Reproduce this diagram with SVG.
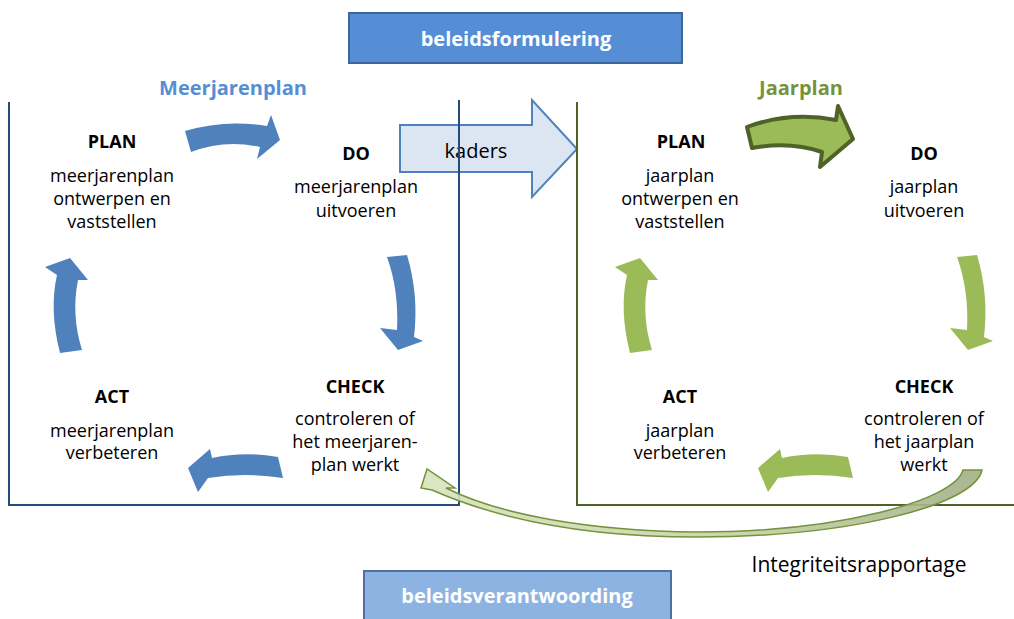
<svg xmlns="http://www.w3.org/2000/svg" width="1014" height="619" viewBox="0 0 1014 619">
  <style>
    text { font-family: "Open Sans", "Liberation Sans", sans-serif; text-anchor: middle; fill: #000; }
    .body { font-size: 18px; }
    .head { font-size: 18px; font-weight: bold; }
    .boxlabel { font-size: 20px; font-weight: bold; fill: #fff; }
    .title { font-size: 20px; font-weight: bold; }
    .blue-arrow { fill: #4F81BD; }
    .green-arrow { fill: #9BBB59; }
    .frame-blue { fill: none; stroke: #244A7E; stroke-width: 2; }
    .frame-green { fill: none; stroke: #4F6228; stroke-width: 2; }
  </style>
  <defs>
    <linearGradient id="reportGrad" gradientUnits="userSpaceOnUse" x1="980" y1="480" x2="430" y2="480">
      <stop offset="0" stop-color="#A2AF87"/>
      <stop offset="0.45" stop-color="#C3D3A3"/>
      <stop offset="1" stop-color="#D7E4BD"/>
    </linearGradient>
  </defs>
  <rect width="1014" height="619" fill="#fff"/>

  <!-- policy phase boxes -->
  <g id="beleidsformulering">
    <rect x="349" y="13" width="333" height="50" fill="#558ED5" stroke="#3B679C" stroke-width="2"/>
    <text class="boxlabel" x="516" y="46">beleidsformulering</text>
  </g>
  <g id="beleidsverantwoording">
    <rect x="364" y="571" width="307" height="60" fill="#8DB3E2" stroke="#4E71A0" stroke-width="2"/>
    <text class="boxlabel" x="517" y="603">beleidsverantwoording</text>
  </g>

  <!-- kaders arrow between the two cycles -->
  <g id="kaders">
    <path d="M400,125 L532,125 L532,100 L577,149 L532,197 L532,172 L400,172 Z" fill="#DCE6F2" stroke="#4F81BD" stroke-width="2" stroke-linejoin="miter"/>
    <text x="476" y="158" style="font-size:20px">kaders</text>
  </g>

  <!-- multi-year frame -->
  <g id="meerjarenplan">
    <path class="frame-blue" d="M9,102 L9,505 L459,505 L459,100"/>
    <text class="title" x="233" y="95" style="fill:#558ED5">Meerjarenplan</text>
  </g>

  <!-- annual frame -->
  <g id="jaarplan">
    <path class="frame-green" d="M577,102 L577,505 L1014,505"/>
    <text class="title" x="801" y="95" style="fill:#76923C">Jaarplan</text>
  </g>

  <!-- multi-year PDCA steps -->
  <g id="mj-plan">
    <text class="head" x="112" y="148">PLAN</text>
    <text class="body" x="112" y="182">meerjarenplan</text>
    <text class="body" x="112" y="205">ontwerpen en</text>
    <text class="body" x="112" y="228">vaststellen</text>
  </g>
  <g id="mj-do">
    <text class="head" x="356" y="160">DO</text>
    <text class="body" x="356" y="193">meerjarenplan</text>
    <text class="body" x="356" y="217">uitvoeren</text>
  </g>
  <g id="mj-check">
    <text class="head" x="355" y="393">CHECK</text>
    <text class="body" x="355" y="425">controleren of</text>
    <text class="body" x="355" y="448">het meerjaren-</text>
    <text class="body" x="355" y="471">plan werkt</text>
  </g>
  <g id="mj-act">
    <text class="head" x="112" y="403">ACT</text>
    <text class="body" x="112" y="437">meerjarenplan</text>
    <text class="body" x="112" y="459">verbeteren</text>
  </g>

  <!-- annual PDCA steps -->
  <g id="j-plan">
    <text class="head" x="681" y="148">PLAN</text>
    <text class="body" x="680" y="182">jaarplan</text>
    <text class="body" x="680" y="205">ontwerpen en</text>
    <text class="body" x="680" y="228">vaststellen</text>
  </g>
  <g id="j-do">
    <text class="head" x="924" y="160">DO</text>
    <text class="body" x="924" y="193">jaarplan</text>
    <text class="body" x="924" y="217">uitvoeren</text>
  </g>
  <g id="j-check">
    <text class="head" x="924" y="393">CHECK</text>
    <text class="body" x="924" y="425">controleren of</text>
    <text class="body" x="924" y="448">het jaarplan</text>
    <text class="body" x="924" y="471">werkt</text>
  </g>
  <g id="j-act">
    <text class="head" x="680" y="403">ACT</text>
    <text class="body" x="680" y="437">jaarplan</text>
    <text class="body" x="680" y="459">verbeteren</text>
  </g>

  <g id="integriteitsrapportage-label">
    <text x="859" y="572" style="font-size:21px">Integriteitsrapportage</text>
  </g>

  <!-- cycle arrows and report arrow -->
  <g id="connectors">
    <!-- multi-year cycle -->
    <path class="blue-arrow" d="M185,131 Q225,119 267,126 L271,115 L280,140 L257,159 L260,147 Q225,139 191,152 Z"/>
    <path class="blue-arrow" d="M387,257 L407,255 Q419,295 414,337 L423,341 L398,350 L380,328 L397,330 Q399,290 387,257 Z"/>
    <path class="blue-arrow" d="M278,457 Q245,451 212,458 L210,449 L188,468 L198,492 L208,478 Q245,472 283,478 Z"/>
    <path class="blue-arrow" d="M60,353 Q49,310 57,275 L45,267 L70,258 L88,280 L78,280 Q71,315 82,350 Z"/>

    <!-- annual cycle -->
    <path class="green-arrow" d="M747,127 Q790,111 836,120 L838,106 L853,139 L820,167 L822,152 Q790,141 752,148 Z" stroke="#4F6228" stroke-width="4" stroke-linejoin="round"/>
    <g transform="translate(570,0)">
      <path class="green-arrow" d="M387,257 L407,255 Q419,295 414,337 L423,341 L398,350 L380,328 L397,330 Q399,290 387,257 Z"/>
      <path class="green-arrow" d="M278,457 Q245,451 212,458 L210,449 L188,468 L198,492 L208,478 Q245,472 283,478 Z"/>
      <path class="green-arrow" d="M60,353 Q49,310 57,275 L45,267 L70,258 L88,280 L78,280 Q71,315 82,350 Z"/>
    </g>

    <!-- report from annual CHECK back to multi-year CHECK -->
    <path d="M982,470 C975,505 850,537 697,537 C590,537 500,520 432,490 L421,488 L427,469 L455,488 L446,488 C500,515 590,531 697,532 C840,532 955,500 963,470 Z" fill="url(#reportGrad)" fill-opacity="0.9" stroke="#76923C" stroke-width="1.5" stroke-linejoin="miter"/>
  </g>
</svg>
